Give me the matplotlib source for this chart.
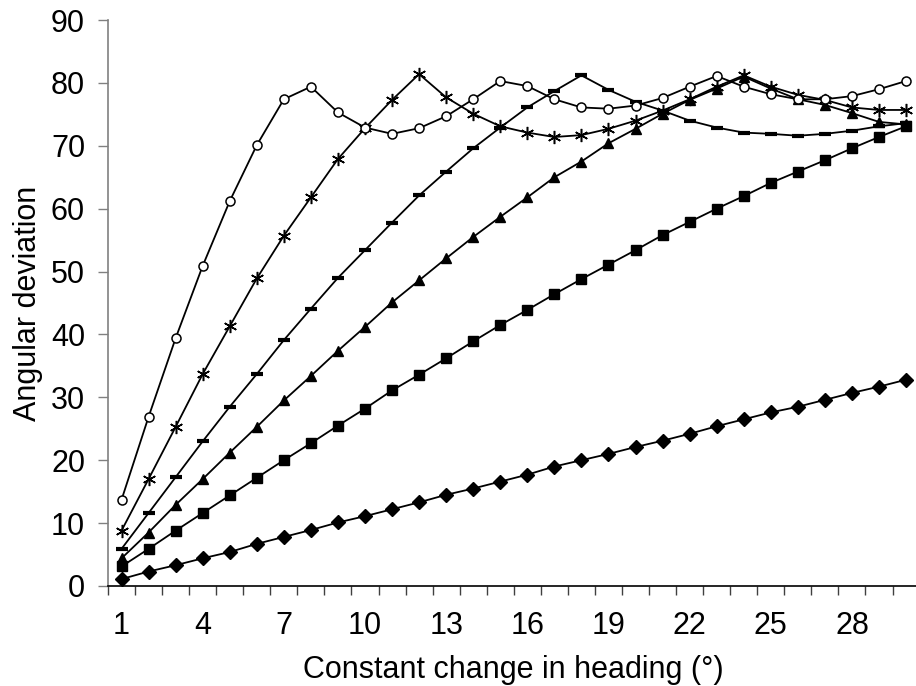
import numpy as np
import matplotlib.pyplot as plt

plt.rcParams['font.family'] = ['Liberation Sans', 'DejaVu Sans']

heading = np.arange(1, 31)

dev_diamond = [1.1, 2.3, 3.3, 4.4, 5.4, 6.7, 7.8, 8.9, 10.1, 11.1,
               12.2, 13.3, 14.5, 15.5, 16.6, 17.7, 19.0, 20.0, 21.0, 22.1,
               23.1, 24.2, 25.4, 26.5, 27.6, 28.5, 29.6, 30.7, 31.7, 32.8]
dev_square = [3.1, 5.9, 8.8, 11.6, 14.4, 17.2, 20.0, 22.7, 25.5, 28.2,
              31.1, 33.6, 36.2, 38.9, 41.5, 43.9, 46.4, 48.8, 51.1, 53.4,
              55.8, 57.9, 60.0, 62.0, 64.1, 65.9, 67.7, 69.6, 71.4, 73.1]
dev_triangle = [4.4, 8.5, 12.9, 17.0, 21.2, 25.3, 29.5, 33.4, 37.4, 41.2,
                45.1, 48.6, 52.1, 55.5, 58.7, 61.8, 65.0, 67.5, 70.4, 72.7,
                75.1, 77.3, 79.1, 81.0, 79.1, 77.4, 76.5, 75.2, 73.8, 73.4]
dev_dash = [5.9, 11.6, 17.3, 23.0, 28.5, 33.7, 39.1, 44.1, 49.0, 53.4,
            57.8, 62.1, 65.9, 69.6, 72.9, 76.1, 78.7, 81.2, 78.9, 77.0,
            75.6, 74.0, 72.9, 72.1, 71.9, 71.6, 71.9, 72.4, 73.1, 73.6]
dev_star = [8.8, 17.0, 25.3, 33.7, 41.3, 48.9, 55.7, 61.8, 67.9, 72.8,
            77.3, 81.4, 77.7, 75.1, 73.1, 72.1, 71.4, 71.7, 72.7, 74.0,
            75.6, 77.4, 79.4, 81.2, 79.4, 78.1, 77.3, 76.1, 75.7, 75.7]
dev_circle = [13.7, 26.9, 39.4, 50.9, 61.2, 70.1, 77.4, 79.4, 75.3, 72.9,
              71.9, 72.8, 74.7, 77.4, 80.3, 79.5, 77.4, 76.1, 75.9, 76.4,
              77.6, 79.4, 81.1, 79.4, 78.2, 77.4, 77.4, 77.9, 79.0, 80.3]

x_labels = [1, 4, 7, 10, 13, 16, 19, 22, 25, 28]

fig = plt.figure(figsize=(9.16, 6.86), dpi=100)
ax = fig.add_axes([0.1179, 0.1458, 0.886, 0.825])

lw = 1.3
ax.plot(heading, dev_diamond, color='black', lw=lw, marker='D', ms=7)
ax.plot(heading, dev_square, color='black', lw=lw, marker='s', ms=6.5)
ax.plot(heading, dev_triangle, color='black', lw=lw, marker='^', ms=7.5)
ax.plot(heading, dev_dash, color='black', lw=lw, marker='_', ms=8, mew=3)
ax.plot(heading, dev_star, color='black', lw=lw, marker=(6, 2, 0), ms=9.5, mew=1.1)
ax.plot(heading, dev_circle, color='black', lw=lw, marker='o', ms=6.5,
        mfc='white', mew=1.1)

ax.set_xlim(0.5, 30.5)
ax.set_ylim(0, 90)
ax.set_yticks(np.arange(0, 91, 10))
ax.set_xticks(x_labels)
ax.set_xticks(np.arange(0.5, 31, 1), minor=True)

fs = 22
ax.tick_params(axis='x', which='major', length=0, pad=18, labelsize=fs)
ax.tick_params(axis='x', which='minor', length=6.5, width=1, color='#404040',
               direction='out')
ax.tick_params(axis='y', length=7.5, width=1, color='#808080', labelsize=fs,
               pad=9)

for side in ['top', 'right']:
    ax.spines[side].set_visible(False)
ax.spines['left'].set_color('#808080')
ax.spines['left'].set_linewidth(1.2)
ax.spines['bottom'].set_color('black')
ax.spines['bottom'].set_linewidth(1.2)

ax.set_xlabel('Constant change in heading (°)', fontsize=fs, labelpad=10)
ax.set_ylabel('Angular deviation', fontsize=fs, labelpad=6)

fig.savefig('out.png', dpi=100)
